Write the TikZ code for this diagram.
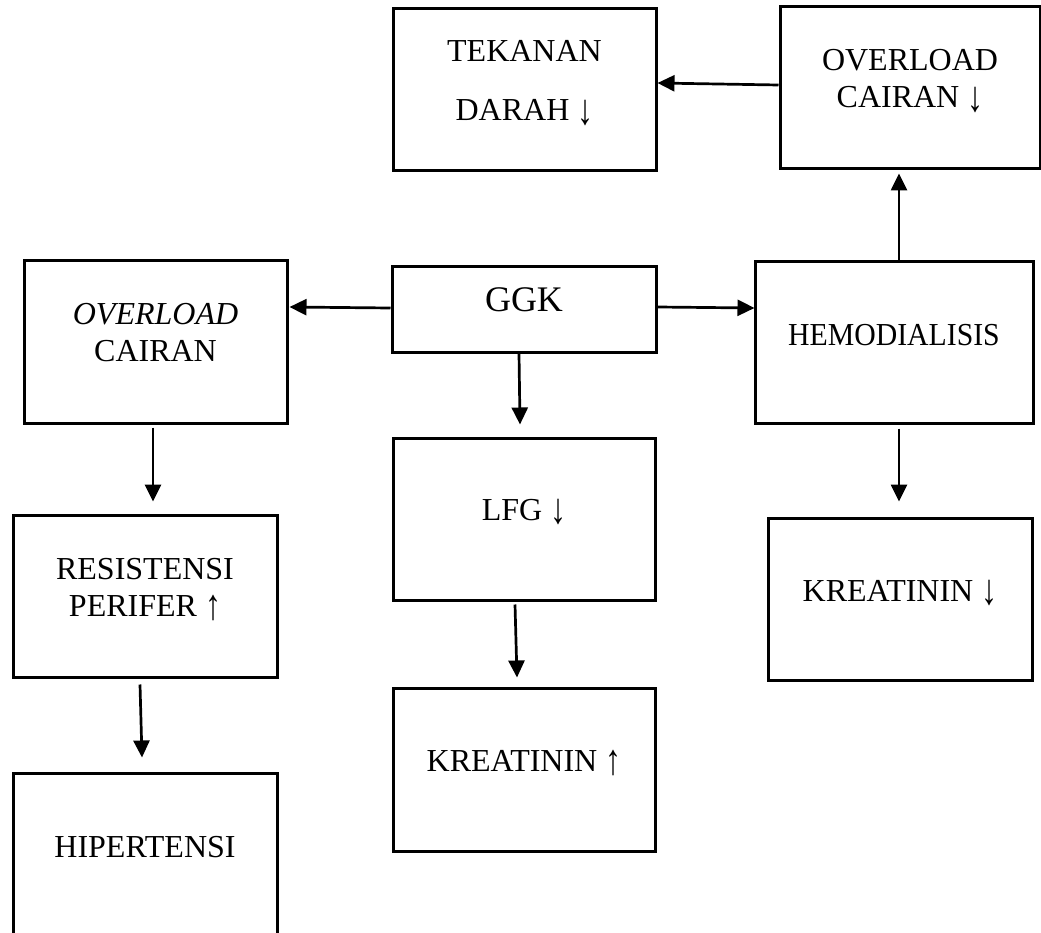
\documentclass[tikz,border=0pt]{standalone}
\usepackage{fontspec}
\setmainfont{Liberation Serif}
\usetikzlibrary{arrows.meta,calc}
\newcommand{\bt}[3]{\raisebox{0pt}[#1][#2]{\begin{tabular}[t]{@{}c@{}}#3\end{tabular}}}
\newcommand{\dn}{\raisebox{-0.1em}{\scalebox{1}[1.35]{↓}}}
\newcommand{\upar}{\raisebox{-0.1em}{\scalebox{1}[1.35]{↑}}}
\begin{document}
\begin{tikzpicture}[x=1pt,y=-1pt,
  box/.style={draw=black,line width=3pt,inner sep=0pt,minimum height=162pt,
    font=\fontsize{32}{37}\selectfont},
  arr/.style={line width=2.7pt,-{Triangle[length=17pt,width=16pt]}}]
\useasboundingbox (0,0) rectangle (1041,933);
% boxes
\node[box,minimum width=263pt] (tek) at (524.5,90) {\bt{0pt}{56pt}{TEKANAN\\[22pt]DARAH \dn}};
\node[box,minimum width=260pt] (ovl2) at (910,88) {\bt{0pt}{34pt}{OVERLOAD\\CAIRAN \dn}};
\node[box,minimum width=263pt] (ovl1) at (155.5,342) {\bt{0pt}{36pt}{\textit{OVERLOAD}\\CAIRAN}};
\node[box,minimum width=264pt,minimum height=85pt,font=\fontsize{36}{40}\selectfont] (ggk) at (524,309.5) {\bt{3pt}{0pt}{GGK}};
\node[box,minimum width=278pt,minimum height=161pt] (hemo) at (894,342.5) {\bt{5pt}{0pt}{\scalebox{0.93}[1]{HEMODIALISIS}}};
\node[box,minimum width=262pt] (lfg) at (524,519) {\bt{2pt}{0pt}{LFG \dn}};
\node[box,minimum width=264pt] (res) at (145,596) {\bt{0pt}{34pt}{RESISTENSI\\PERIFER \upar}};
\node[box,minimum width=264pt] (kre2) at (900,599) {\bt{4pt}{0pt}{KREATININ \dn}};
\node[box,minimum width=262pt,minimum height=163pt] (kre1) at (524,769.5) {\bt{3pt}{0pt}{KREATININ \upar}};
\node[box,minimum width=264pt] (hip) at (145,854) {\bt{6pt}{0pt}{HIPERTENSI}};
% arrows
\draw[arr] ($(ovl2.west)+(0,-3)$) -- ($(tek.east)+(0,-7)$);
\draw[arr] ($(hemo.north)+(5,0)$) -- ($(ovl2.south)+(-11,3)$);
\draw[arr] ($(ggk.west)+(0,-1.5)$) -- ($(ovl1.east)+(1,-35)$);
\draw[arr] ($(ggk.east)+(0,-2.5)$) -- ($(hemo.west)+(1,-34.5)$);
\draw[arr] ($(ggk.south)+(-5,0)$) -- ($(lfg.north)+(-4,-12)$);
\draw[arr] ($(ovl1.south)+(-2.5,3)$) -- ($(res.north)+(8,-12)$);
\draw[arr] ($(res.south)+(-5,6)$) -- ($(hip.north)+(-3,-14)$);
\draw[arr] ($(lfg.south)+(-9,3)$) -- ($(kre1.north)+(-7,-9)$);
\draw[arr] ($(hemo.south)+(5,4)$) -- ($(kre2.north)+(-1,-15)$);
\end{tikzpicture}
\end{document}
